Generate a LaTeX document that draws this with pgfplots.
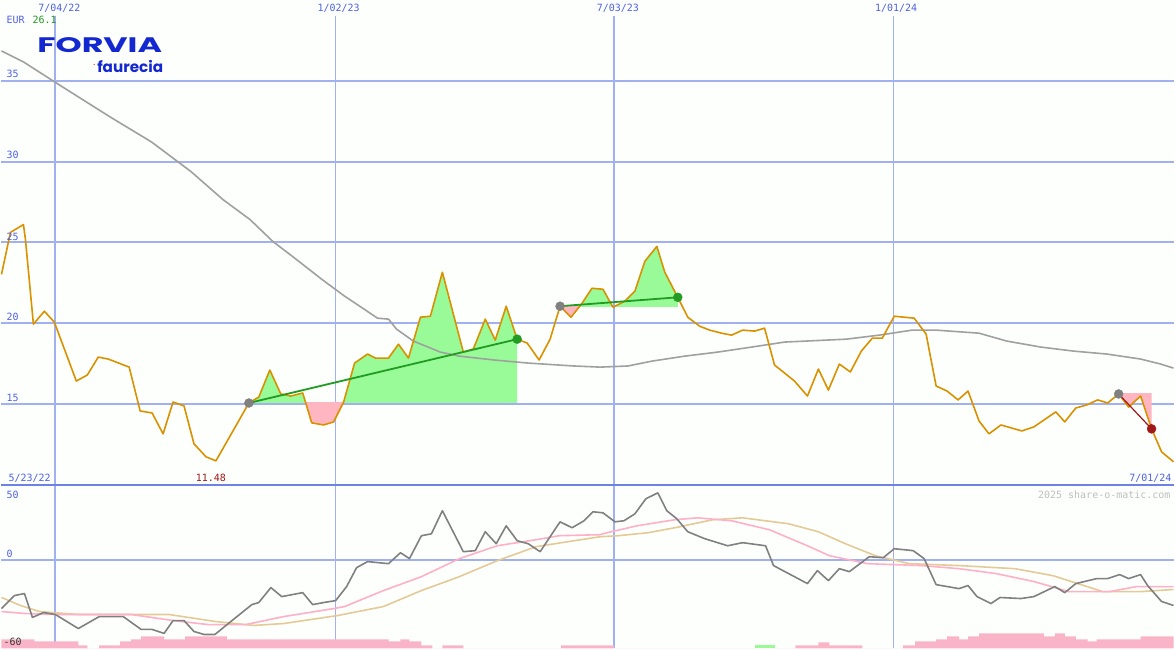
\documentclass[border=0pt]{standalone}
\usepackage{pgfplots}
\pgfplotsset{compat=1.18}
\usepackage{pgfplotstable}
\usepackage{fontspec}
\usepackage{graphicx}
\setmainfont{DejaVu Sans}
\newfontfamily\labfont{DejaVu Sans Mono}
\newfontfamily\logofont{Poppins}

\definecolor{bgc}{RGB}{252,255,252}
\definecolor{gridc}{RGB}{160,176,240}
\definecolor{sepc}{RGB}{110,130,230}
\definecolor{labc}{RGB}{80,96,230}
\definecolor{pricec}{RGB}{218,145,0}
\definecolor{mac}{RGB}{160,160,160}
\definecolor{upfill}{RGB}{152,251,152}
\definecolor{dnfill}{RGB}{255,182,193}
\definecolor{trendg}{RGB}{34,155,34}
\definecolor{trendr}{RGB}{160,24,24}
\definecolor{markg}{RGB}{128,128,128}
\definecolor{momc}{RGB}{128,128,128}
\definecolor{sig1}{RGB}{255,176,200}
\definecolor{sig2}{RGB}{228,202,150}
\definecolor{barc}{RGB}{250,180,200}
\definecolor{logoc}{RGB}{20,40,210}

% weekly close, x in chart pixels
\pgfplotstableread{
x y
0 23.02
9 25.62
22 26.10
24 25.19
32 19.94
43 20.74
53 20.06
75 16.42
86 16.79
97 17.90
107 17.78
128 17.28
139 14.57
151 14.44
162 13.15
172 15.12
183 14.88
193 12.53
205 11.73
215 11.48
248 15.06
258 15.43
269 17.10
280 15.62
290 15.49
302 15.68
311 13.83
323 13.70
333 13.89
343 15.12
354 17.53
367 18.09
375 17.84
388 17.84
398 18.70
408 17.84
420 20.37
430 20.43
442 23.15
463 18.21
473 18.40
485 20.25
495 18.95
506 21.05
517 19.01
527 18.77
539 17.72
550 19.01
560 21.05
571 20.37
582 21.23
592 22.16
603 22.10
613 20.99
625 21.36
635 21.98
645 23.83
657 24.75
665 23.15
678 21.60
688 20.37
700 19.81
710 19.57
722 19.38
732 19.26
743 19.57
755 19.51
765 19.69
775 17.41
795 16.42
808 15.49
819 17.16
829 15.86
840 17.47
851 16.98
862 18.27
873 19.07
883 19.07
895 20.43
915 20.31
927 19.32
937 16.11
948 15.80
959 15.25
969 15.80
980 13.95
990 13.15
1002 13.70
1023 13.33
1035 13.58
1057 14.51
1066 13.89
1077 14.75
1088 14.94
1099 15.25
1109 15.06
1120 15.62
1130 14.81
1142 15.49
1153 13.46
1163 12.04
1175 11.42
}\price

\pgfplotstableread{
x y
0 36.85
22 36.17
53 34.94
110 32.72
150 31.23
190 29.38
222 27.65
249 26.42
272 25.06
293 24.07
321 22.72
344 21.67
377 20.31
388 20.25
396 19.63
413 18.89
440 18.21
459 17.96
494 17.72
528 17.53
574 17.35
600 17.28
628 17.35
652 17.65
685 17.96
718 18.21
752 18.52
785 18.83
847 19.01
880 19.26
913 19.57
937 19.57
980 19.38
1008 18.89
1042 18.52
1075 18.27
1108 18.09
1142 17.78
1162 17.47
1175 17.22
}\mavg

\pgfplotstableread{
x y
0 -33.1
13 -24.3
23 -22.9
31 -39.1
42 -35.8
54 -37.1
77 -46.6
98 -38.5
122 -38.5
140 -47.2
151 -47.2
163 -49.9
172 -41.2
183 -41.2
193 -48.6
203 -50.6
214 -50.6
230 -41.8
251 -30.4
258 -29.0
270 -18.9
281 -25.0
302 -22.3
312 -30.4
323 -29.0
335 -27.7
346 -18.2
356 -5.4
367 -1.3
388 -2.7
400 4.7
409 0.7
421 16.2
431 17.5
442 33.1
463 5.4
475 6.1
485 18.9
496 10.8
506 22.9
517 12.8
528 10.8
540 5.4
560 25.6
572 21.6
584 26.3
593 32.4
603 31.7
615 25.6
624 26.3
635 31.0
646 41.2
658 45.2
667 33.1
677 27.7
688 18.9
705 14.2
728 9.4
743 11.5
766 9.4
774 -4.0
808 -16.2
818 -7.4
829 -14.2
840 -6.1
850 -8.1
870 2.0
884 1.3
895 7.4
914 6.1
925 0.7
937 -16.9
960 -19.6
969 -17.5
978 -25.0
992 -29.7
1001 -25.6
1022 -26.3
1035 -25.0
1056 -18.2
1066 -22.3
1077 -16.2
1098 -12.8
1109 -12.8
1121 -10.1
1130 -12.8
1142 -10.1
1149 -17.5
1163 -28.3
1175 -31.0
}\mom

\pgfplotstableread{
x y
0 -35.1
23 -36.4
54 -37.1
130 -37.1
172 -41.2
207 -43.9
245 -43.9
283 -38.5
333 -33.1
344 -31.7
383 -20.9
421 -11.5
459 0.7
497 9.4
536 13.5
559 16.2
600 16.9
607 18.2
637 22.9
675 27.0
698 28.3
732 26.3
770 20.2
808 9.4
830 2.7
868 -2.7
922 -4.0
960 -6.1
997 -9.4
1035 -14.8
1070 -21.6
1111 -21.6
1138 -18.2
1175 -18.2
}\sigA

\pgfplotstableread{
x y
0 -25.6
19 -31.0
38 -35.1
77 -37.1
168 -37.1
214 -41.8
253 -44.5
283 -43.2
337 -37.8
383 -31.7
421 -20.9
459 -11.5
497 -0.7
536 8.8
574 12.8
600 15.5
618 16.2
648 18.2
675 21.6
713 27.0
743 28.3
789 24.3
819 18.9
846 10.8
876 2.7
910 -2.7
960 -4.0
1016 -6.1
1054 -10.8
1104 -21.6
1142 -21.6
1175 -20.2
}\sigB

\begin{document}
\begin{tikzpicture}[
  lab/.style={font=\labfont\fontsize{10}{12}\selectfont, text=labc, inner sep=0pt},
  vgrid/.style={draw=gridc, line width=#1},
  ]
% ---------------- price panel ----------------
\begin{axis}[
  at={(0pt,163pt)}, anchor=south west,
  scale only axis, width=1175pt, height=487pt,
  xmin=0, xmax=1175, ymin=9.938, ymax=40,
  axis lines=none, clip=false,
  axis background/.style={fill=bgc},
]
\foreach \g in {15,20,25,30,35}{
  \edef\tmp{\noexpand\draw[draw=gridc, line width=2pt] (axis cs:0,\g) -- (axis cs:1175,\g);}\tmp
}
\draw[vgrid=2pt] (axis cs:54,39.01) -- (axis cs:54,9.938);
\draw[vgrid=1pt] (axis cs:335,39.01) -- (axis cs:335,9.938);
\draw[vgrid=2pt] (axis cs:614,39.01) -- (axis cs:614,9.938);
\draw[vgrid=1pt] (axis cs:894,39.01) -- (axis cs:894,9.938);
\draw[draw=sepc, line width=3pt] (axis cs:0,9.938) -- (axis cs:1175,9.938);

% trend fills
\begin{scope}
\clip (axis cs:248,15.06) rectangle (axis cs:517,40);
\addplot[draw=none, fill=upfill] coordinates {(248,9.94) (248,15.06) (258,15.43) (269,17.10) (280,15.62) (290,15.49) (302,15.68) (311,13.83) (323,13.70) (333,13.89) (343,15.12) (354,17.53) (367,18.09) (375,17.84) (388,17.84) (398,18.70) (408,17.84) (420,20.37) (430,20.43) (442,23.15) (463,18.21) (473,18.40) (485,20.25) (495,18.95) (506,21.05) (517,19.01) (517,9.94)};
\end{scope}
\begin{scope}
\clip (axis cs:248,9.94) rectangle (axis cs:517,15.06);
\addplot[draw=none, fill=dnfill] coordinates {(248,40) (248,15.06) (258,15.43) (269,17.10) (280,15.62) (290,15.49) (302,15.68) (311,13.83) (323,13.70) (333,13.89) (343,15.12) (354,17.53) (367,18.09) (375,17.84) (388,17.84) (398,18.70) (408,17.84) (420,20.37) (430,20.43) (442,23.15) (463,18.21) (473,18.40) (485,20.25) (495,18.95) (506,21.05) (517,19.01) (517,40)};
\end{scope}
\begin{scope}
\clip (axis cs:560,21.05) rectangle (axis cs:678,40);
\addplot[draw=none, fill=upfill] coordinates {(560,9.94) (560,21.05) (571,20.37) (582,21.23) (592,22.16) (603,22.10) (613,20.99) (625,21.36) (635,21.98) (645,23.83) (657,24.75) (665,23.15) (678,21.60) (678,9.94)};
\end{scope}
\begin{scope}
\clip (axis cs:560,9.94) rectangle (axis cs:678,21.05);
\addplot[draw=none, fill=dnfill] coordinates {(560,40) (560,21.05) (571,20.37) (582,21.23) (592,22.16) (603,22.10) (613,20.99) (625,21.36) (635,21.98) (645,23.83) (657,24.75) (665,23.15) (678,21.60) (678,40)};
\end{scope}
\begin{scope}
\clip (axis cs:1120,9.94) rectangle (axis cs:1153,15.62);
\addplot[draw=none, fill=dnfill] coordinates {(1120,40) (1120,15.62) (1130,14.81) (1142,15.49) (1153,13.46) (1153,40)};
\end{scope}

\addplot[mac, line width=1.6pt] table {\mavg};
\addplot[pricec, line width=1.6pt, line join=round] table {\price};

\addplot[trendg, line width=1.8pt] coordinates {(248,15.06) (517,19.01)};
\addplot[trendg, line width=1.8pt] coordinates {(560,21.05) (678,21.60)};
\addplot[trendr, line width=1.2pt] coordinates {(1120,15.62) (1153,13.46)};
\addplot[only marks, mark=*, mark size=4.5pt, draw=markg, fill=markg] coordinates {(248,15.06) (560,21.05) (1120,15.62)};
\addplot[only marks, mark=*, mark size=4.5pt, draw=trendg, fill=trendg] coordinates {(517,19.01) (678,21.60)};
\addplot[only marks, mark=*, mark size=4.5pt, draw=trendr, fill=trendr] coordinates {(1153,13.46)};

% labels
\node[lab, anchor=center] at (axis cs:58,39.51) {7/04/22};
\node[lab, anchor=center] at (axis cs:338,39.51) {1/02/23};
\node[lab, anchor=center] at (axis cs:618,39.51) {7/03/23};
\node[lab, anchor=center] at (axis cs:897,39.51) {1/01/24};
\node[lab, anchor=west] at (axis cs:5,38.77) {EUR};
\node[lab, anchor=west, text=trendg] at (axis cs:31,38.77) {26.1};
\node[lab, anchor=west] at (axis cs:5,35.43) {35};
\node[lab, anchor=west] at (axis cs:5,30.43) {30};
\node[lab, anchor=west] at (axis cs:5,25.37) {25};
\node[lab, anchor=west] at (axis cs:5,20.37) {20};
\node[lab, anchor=west] at (axis cs:5,15.37) {15};
\node[lab, anchor=west] at (axis cs:7,10.43) {5/23/22};
\node[lab, anchor=center, text=trendr] at (axis cs:210,10.43) {11.48};
\node[lab, anchor=east] at (axis cs:1173,10.43) {7/01/24};
% logo
\node[inner sep=0pt, text=logoc, anchor=center] at (axis cs:98.5,37.19)
  {\resizebox{125pt}{15pt}{\logofont\bfseries FORVIA}};
\node[inner sep=0pt, text=logoc, anchor=center] at (axis cs:129,35.90)
  {\resizebox{66pt}{!}{\logofont\bfseries faurecia}};
\node[inner sep=0pt, text=red, font=\fontsize{9}{9}\selectfont] at (axis cs:93,36.0) {.};
\end{axis}

% ---------------- momentum panel ----------------
\begin{axis}[
  at={(0pt,0pt)}, anchor=south west,
  scale only axis, width=1175pt, height=163pt,
  xmin=0, xmax=1175, ymin=-60, ymax=50,
  axis lines=none, clip=false,
  axis background/.style={fill=bgc},
]
\draw[draw=gridc, line width=2pt] (axis cs:0,0) -- (axis cs:1175,0);
\draw[vgrid=2pt] (axis cs:54,50) -- (axis cs:54,-60);
\draw[vgrid=1pt] (axis cs:335,50) -- (axis cs:335,-60);
\draw[vgrid=2pt] (axis cs:614,50) -- (axis cs:614,-60);
\draw[vgrid=1pt] (axis cs:894,50) -- (axis cs:894,-60);

\addplot[const plot, draw=none, fill=barc] coordinates {
(0,-60) (0,-53.9) (33,-55.3) (77,-58.0) (86,-60) (98,-58.0) (119,-55.3) (130,-53.9)
(140,-51.9) (163,-53.9) (184,-51.9) (226,-53.9) (388,-55.3) (400,-53.9) (409,-55.3)
(421,-58.0) (432,-60) (442,-58.0) (463,-60) (561,-58.0) (584,-58.0) (591,-58.0) (614,-60)
(796,-58.0) (819,-56.0) (830,-58.0) (863,-60) (904,-58.0) (916,-55.3) (937,-53.9)
(948,-51.9) (960,-53.9) (969,-51.9) (980,-49.9) (1045,-51.9) (1056,-49.9) (1066,-51.9)
(1077,-53.9) (1089,-55.3) (1098,-53.9) (1142,-51.9) (1175,-51.9) (1175,-60)};
\addplot[draw=none, fill=upfill] coordinates {(755,-60) (755,-58.0) (775,-58.0) (775,-60)};

\addplot[sig2, line width=1.6pt] table {\sigB};
\addplot[sig1, line width=1.6pt] table {\sigA};
\addplot[momc, line width=1.6pt, line join=round] table {\mom};

\node[lab, anchor=west] at (axis cs:5,43.9) {50};
\node[lab, anchor=west] at (axis cs:5,4.0) {0};
\node[lab, anchor=west, text=black!80] at (axis cs:2,-55.3) {-60};
\node[lab, anchor=east, text=black!25] at (axis cs:1172,43.9) {2025 share-o-matic.com};
\end{axis}
\end{tikzpicture}
\end{document}
